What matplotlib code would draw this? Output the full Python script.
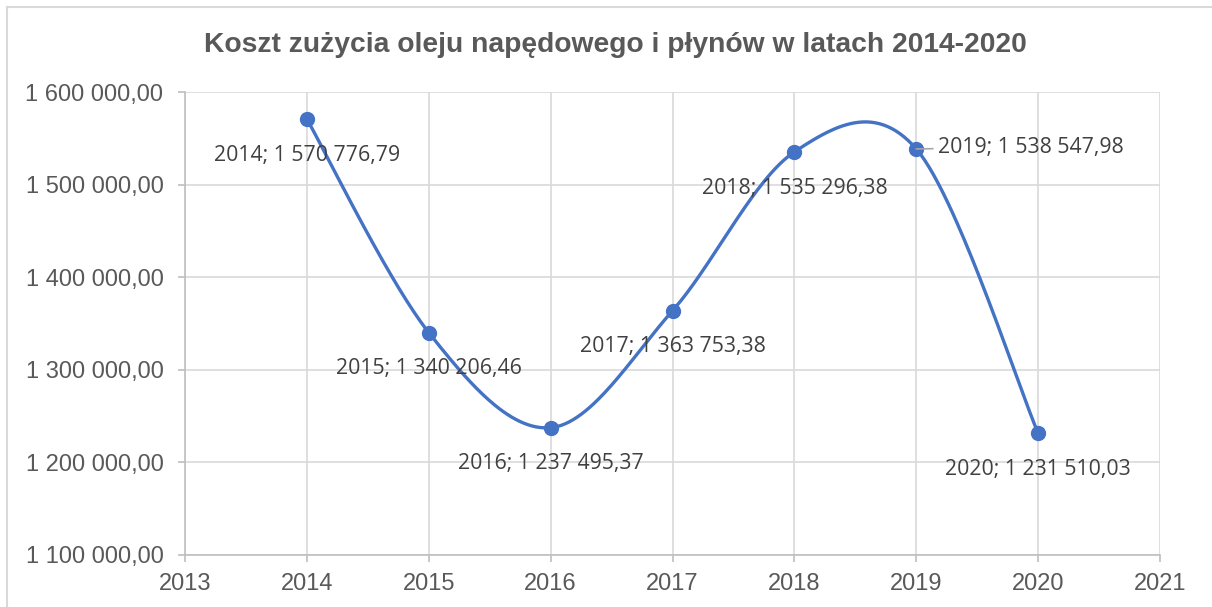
import numpy as np
import matplotlib.pyplot as plt
from matplotlib.lines import Line2D
from matplotlib.ticker import FuncFormatter, MultipleLocator

years = [2014, 2015, 2016, 2017, 2018, 2019, 2020]
values = [1570776.79, 1340206.46, 1237495.37, 1363753.38, 1535296.38, 1538547.98, 1231510.03]
title = "Koszt zużycia oleju napędowego i płynów w latach 2014-2020"


def pl(v, dec=2):
    s = f"{v:,.{dec}f}"
    return s.replace(",", " ").replace(".", ",")


labels = [f"{y}; {pl(v)}" for y, v in zip(years, values)]

# Excel-like smoothing (Bezier with control points from neighbours)
P = np.column_stack([np.array(years, float), np.array(values, float)])
n = len(P)
curve = []
for i in range(n - 1):
    p0 = P[i]
    p3 = P[i + 1]
    prev = P[i - 1] if i > 0 else P[i]
    nxt = P[i + 2] if i + 2 < n else P[i + 1]
    c1 = p0 + (p3 - prev) / 6.0
    c2 = p3 - (nxt - p0) / 6.0
    t = np.linspace(0, 1, 60)[:, None]
    seg = ((1 - t) ** 3) * p0 + 3 * ((1 - t) ** 2) * t * c1 + 3 * (1 - t) * t ** 2 * c2 + t ** 3 * p3
    curve.append(seg if i == 0 else seg[1:])
curve = np.vstack(curve)

W, H = 1212, 607
fig = plt.figure(figsize=(W / 100, H / 100), dpi=100)
ax = fig.add_axes([185 / W, 1 - 555 / H, (1160 - 185) / W, (555 - 92) / H])

blue = "#4472C4"
ax.plot(curve[:, 0], curve[:, 1], color=blue, lw=2.4, zorder=3, solid_capstyle="round")
ax.plot(years, values, "o", color=blue, ms=10, zorder=4)

ax.set_xlim(2013, 2021)
ax.set_ylim(1100000, 1600000)
ax.xaxis.set_major_locator(MultipleLocator(1))
ax.yaxis.set_major_locator(MultipleLocator(100000))
ax.yaxis.set_major_formatter(FuncFormatter(lambda v, p: pl(v)))
ax.xaxis.set_major_formatter(FuncFormatter(lambda v, p: f"{int(round(v))}"))

grid_c = "#d9d9d9"
ax.grid(True, color=grid_c, lw=1.2, zorder=0)
for s in ["top", "right"]:
    ax.spines[s].set_visible(False)
for s in ["left", "bottom"]:
    ax.spines[s].set_color("#bfbfbf")
    ax.spines[s].set_linewidth(1.2)
ax.tick_params(axis="both", colors="#bfbfbf", length=5, width=1.2,
               labelcolor="#595959", labelsize=17)
ax.tick_params(axis="x", pad=8)
ax.tick_params(axis="y", pad=10.5)
for lab in ax.get_xticklabels() + ax.get_yticklabels():
    lab.set_family("Liberation Sans")

lab_font = dict(family="Open Sans", fontsize=15.3, color="#404040")
for i, (x, y, t) in enumerate(zip(years, values, labels)):
    if x == 2019:
        ax.annotate(t, (x, y), xytext=(16, 1), textcoords="offset points",
                    ha="left", va="center", zorder=5, **lab_font,
                    arrowprops=dict(arrowstyle="-", color="#a6a6a6", lw=1.2,
                                    shrinkA=2, shrinkB=0))
    else:
        ax.annotate(t, (x, y), xytext=(0, -26), textcoords="offset points",
                    ha="center", va="center", zorder=5, **lab_font)

fig.text(615 / W, 1 - 45 / H, title, ha="center", va="center",
         fontsize=20.3, fontweight="bold", color="#595959", family="Liberation Sans")

# chart area border (top and left edges visible)
bc = "#d9d9d9"
fig.add_artist(Line2D([7 / W, 1], [1 - 7 / H, 1 - 7 / H], color=bc, lw=1.5, transform=fig.transFigure))
fig.add_artist(Line2D([7 / W, 7 / W], [0, 1 - 7 / H], color=bc, lw=1.5, transform=fig.transFigure))

fig.savefig("out.png", dpi=100, facecolor="white")
